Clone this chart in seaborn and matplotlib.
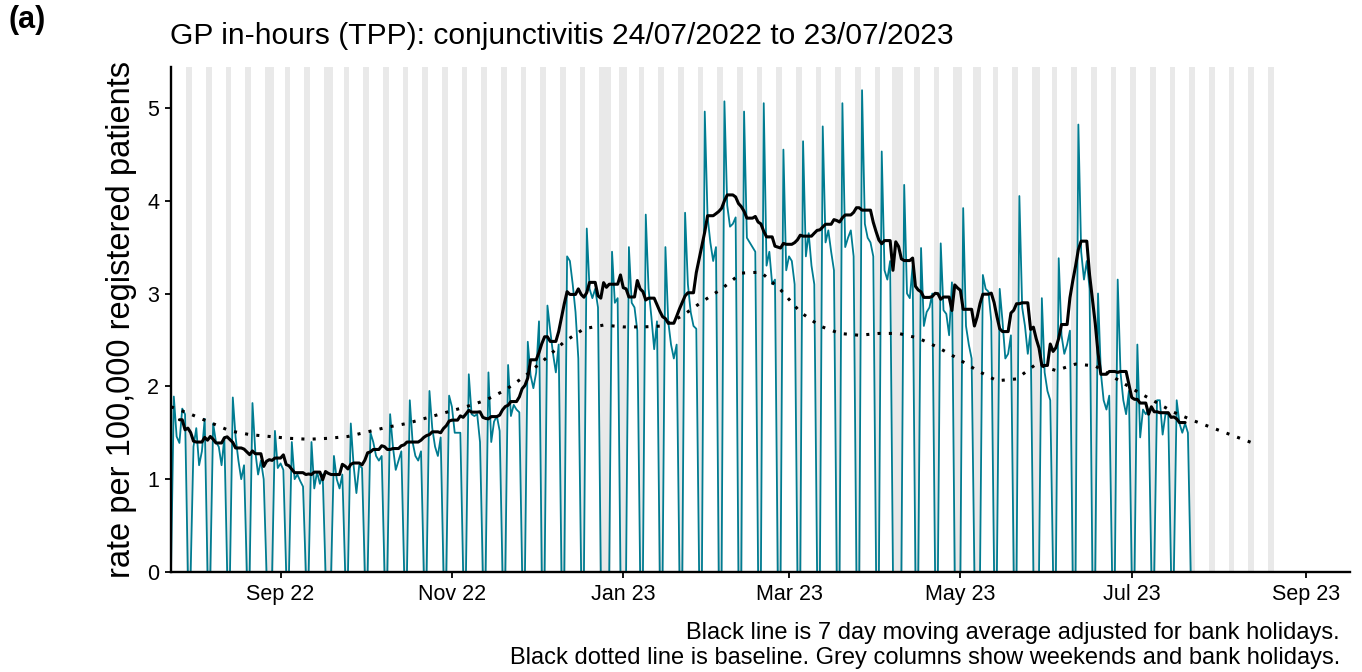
import numpy as np
import pandas as pd
import matplotlib
matplotlib.use("Agg")
import matplotlib.pyplot as plt
import seaborn as sns

# ---------------- data ----------------
start_date = "2022-07-24"
end_date = "2023-07-23"
shade_end = "2023-08-20"
first_monday = "2022-07-25"
bank_holidays = ["2022-08-29", "2022-09-19", "2022-12-26", "2022-12-27",
                 "2023-01-02", "2023-04-07", "2023-04-10", "2023-05-01",
                 "2023-05-08", "2023-05-29"]

# weekday rates per week (week 0 starts Mon 25/07/2022); bank holidays = 0
mon = [1.89, 1.35, 1.60, 1.88, 1.82, 0.00, 1.40, 1.40, 0.00, 1.60,
       1.50, 1.70, 1.85, 1.95, 1.90, 2.13, 2.15, 2.23, 2.48, 2.87,
       3.40, 3.70, 0.00, 0.00, 3.85, 3.50, 3.87, 4.96, 5.07, 4.96,
       5.05, 4.55, 4.64, 4.80, 5.05, 5.19, 4.53, 0.00, 3.49, 3.54,
       0.00, 0.00, 3.05, 4.05, 0.00, 3.38, 4.82, 3.00, 3.15, 2.45,
       1.85, 1.85]
tue = [1.46, 1.55, 1.40, 1.45, 1.30, 1.52, 1.00, 0.90, 1.25, 1.15,
       1.40, 1.35, 1.40, 1.55, 1.78, 1.70, 1.40, 1.68, 2.12, 2.60,
       3.35, 3.05, 0.00, 3.50, 3.05, 2.70, 3.10, 3.83, 3.95, 3.60,
       3.30, 3.25, 3.40, 3.55, 3.50, 3.75, 3.25, 4.17, 2.65, 2.82,
       3.92, 3.20, 2.70, 2.85, 2.95, 2.55, 3.45, 2.15, 2.15, 1.45,
       1.85, 1.60]
wed = [1.39, 1.15, 1.35, 1.20, 1.05, 1.12, 1.05, 1.08, 1.00, 0.85,
       1.25, 1.10, 1.25, 1.35, 1.50, 1.68, 1.62, 1.80, 1.98, 2.35,
       3.10, 2.95, 3.45, 2.90, 2.75, 2.45, 2.80, 3.55, 3.72, 3.55,
       3.45, 3.40, 3.65, 3.68, 3.60, 3.60, 3.15, 3.00, 2.80, 2.78,
       2.65, 3.05, 2.30, 2.65, 2.15, 2.35, 3.15, 1.85, 1.85, 1.75,
       1.48, 1.50]
thu = [1.76, 1.30, 1.15, 1.00, 1.20, 1.17, 0.98, 0.95, 0.90, 1.15,
       1.20, 1.20, 1.20, 1.25, 1.50, 1.70, 1.68, 1.75, 2.15, 2.15,
       2.80, 3.05, 2.90, 2.85, 2.40, 2.30, 2.65, 3.35, 3.75, 3.50,
       3.10, 3.35, 3.30, 3.45, 3.68, 3.55, 3.35, 2.95, 2.85, 2.55,
       2.45, 3.02, 2.35, 2.35, 1.95, 2.45, 3.35, 1.75, 1.70, 1.70,
       1.70, 1.60]
fri = [1.70, 1.65, 1.45, 1.15, 1.00, 1.10, 0.92, 1.05, 1.05, 1.12,
       1.25, 1.30, 1.30, 1.45, 1.50, 1.40, 1.52, 1.72, 2.70, 2.45,
       2.30, 2.85, 2.95, 2.60, 2.70, 2.45, 2.62, 3.50, 3.82, 3.45,
       3.15, 3.10, 3.10, 3.25, 3.40, 3.40, 0.00, 3.30, 3.00, 3.12,
       2.30, 2.70, 2.55, 2.60, 1.85, 2.60, 3.05, 1.90, 1.95, 1.75,
       1.70, 1.50]

# baseline, read weekly from 24/07/2022
baseline_vals = [1.78, 1.70, 1.61, 1.52, 1.48, 1.46, 1.44, 1.43, 1.44, 1.46,
                 1.51, 1.56, 1.60, 1.66, 1.72, 1.78, 1.85, 1.96, 2.11, 2.29,
                 2.48, 2.62, 2.66, 2.64, 2.64, 2.65, 2.76, 2.91, 3.05, 3.22,
                 3.23, 3.04, 2.80, 2.65, 2.57, 2.55, 2.57, 2.57, 2.52, 2.42,
                 2.30, 2.17, 2.06, 2.08, 2.24, 2.17, 2.24, 2.22, 2.09, 1.96,
                 1.84, 1.72, 1.63, 1.55, 1.47, 1.39]

tick_dates = ["2022-09-01", "2022-11-01", "2023-01-01", "2023-03-01",
              "2023-05-01", "2023-07-01", "2023-09-01"]
tick_labels = ["Sep 22", "Nov 22", "Jan 23", "Mar 23", "May 23", "Jul 23", "Sep 23"]
y_ticks = [0, 1, 2, 3, 4, 5]

title = "GP in-hours (TPP): conjunctivitis 24/07/2022 to 23/07/2023"
ylabel = "rate per 100,000 registered patients"
caption1 = "Black line is 7 day moving average adjusted for bank holidays."
caption2 = "Black dotted line is baseline. Grey columns show weekends and bank holidays."
panel = "(a)"

# ---------------- build frames ----------------
t0 = pd.Timestamp(start_date)
dates = pd.date_range(start_date, end_date)
days = np.array([(d - t0).days for d in dates])
rate = np.zeros(len(dates))
m0 = (pd.Timestamp(first_monday) - t0).days
for w in range(len(mon)):
    for k, arr in enumerate([mon, tue, wed, thu, fri]):
        idx = m0 + 7 * w + k
        if idx < len(rate):
            rate[idx] = arr[w]

bh = set(pd.to_datetime(bank_holidays))
work = np.array([(d.dayofweek < 5) and (d not in bh) for d in dates])

ma = np.full(len(dates), np.nan)
for i in range(3, len(dates) - 3):
    win = slice(i - 3, i + 4)
    vals = rate[win][work[win]]
    if len(vals):
        ma[i] = vals.mean()

df = pd.DataFrame({"day": days, "rate": rate, "ma": ma})
base_df = pd.DataFrame({"day": np.arange(len(baseline_vals)) * 7,
                        "baseline": baseline_vals})

shade_dates = pd.date_range(start_date, shade_end)
shade_days = [(d - t0).days for d in shade_dates if d.dayofweek >= 5 or d in bh]

# ---------------- plot ----------------
sns.set_style("white")
plt.rcParams["font.family"] = ["Liberation Sans", "DejaVu Sans"]
plt.rcParams["text.color"] = "black"

W, H = 1362, 672
fig = plt.figure(figsize=(W / 100, H / 100), dpi=100)
ax = fig.add_axes([171 / W, 1 - 572 / H, (1350 - 171) / W, (572 - 67) / H])

for d in shade_days:
    ax.axvspan(d - 0.5, d + 0.5, color="#E9E9E9", lw=0, zorder=0)

sns.lineplot(data=df, x="day", y="rate", ax=ax, color="#007C91", lw=1.3,
             errorbar=None, zorder=2)
sns.lineplot(data=df.dropna(), x="day", y="ma", ax=ax, color="black", lw=2.2,
             errorbar=None, zorder=3)
sns.lineplot(data=base_df, x="day", y="baseline", ax=ax, color="black", lw=2.2,
             linestyle=(0, (1, 2.7)), errorbar=None, zorder=3)

ax.set_xlim(0, 419.7)
ax.set_ylim(0, 5.44)
tick_pos = [(pd.Timestamp(t) - t0).days for t in tick_dates]
ax.set_xticks(tick_pos)
ax.set_xticklabels(tick_labels)
ax.set_yticks(y_ticks)
ax.set_yticklabels([str(v) for v in y_ticks])
ax.set_xlabel("")
ax.set_ylabel("")
ax.tick_params(axis="both", labelsize=15.5, colors="black", labelcolor="black",
               length=4.5, width=1.3, direction="out", pad=4)
ax.tick_params(axis="x", bottom=True)
ax.tick_params(axis="y", left=True)
for s in ["top", "right"]:
    ax.spines[s].set_visible(False)
for s in ["left", "bottom"]:
    ax.spines[s].set_color("black")
    ax.spines[s].set_linewidth(1.7)

fig.text(122 / W, 1 - 320 / H, ylabel, rotation=90, ha="center", va="center",
         fontsize=23.5, color="black")
fig.text(170 / W, 1 - 36 / H, title, ha="left", va="center", fontsize=21.6,
         color="black")
fig.text(8 / W, 1 - 20 / H, panel, ha="left", va="center", fontsize=22,
         fontweight="bold", color="black")
fig.text(1340 / W, 1 - 633 / H, caption1, ha="right", va="center", fontsize=17,
         color="black")
fig.text(1340 / W, 1 - 658 / H, caption2, ha="right", va="center", fontsize=17,
         color="black")

fig.savefig("out.png", dpi=100, facecolor="white")
